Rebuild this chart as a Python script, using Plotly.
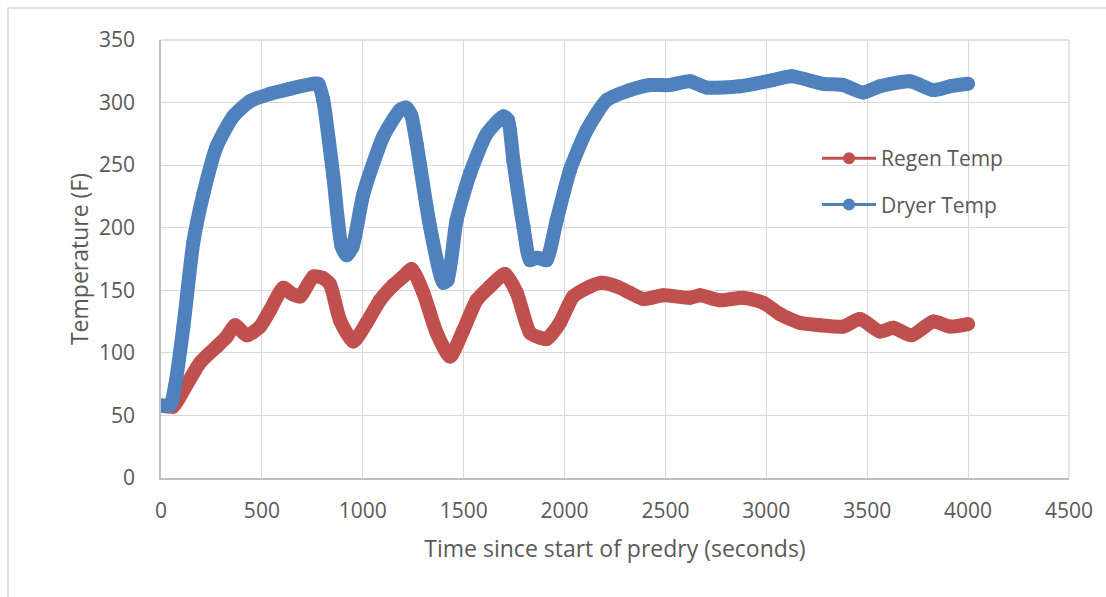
import plotly.graph_objects as go

# Dryer Temp (blue)
dryer_t = [0, 45, 69, 111, 160, 210, 276, 358, 441, 540, 639, 755, 780, 804, 854, 895, 920, 950,
           1003, 1102, 1184, 1215, 1240, 1267, 1333, 1399, 1420, 1465, 1531, 1614, 1697, 1720, 1746,
           1796, 1829, 1862, 1890, 1911, 1961, 2027, 2110, 2209, 2324, 2423, 2522, 2621, 2704, 2869,
           3034, 3125, 3282, 3381, 3480, 3563, 3712, 3827, 3910, 4000]
dryer_v = [58, 58, 73, 121, 188, 227, 265, 289, 301, 307, 311, 315, 315, 302, 241, 185, 178, 185,
           227, 273, 294, 296, 290, 267, 201, 156, 158, 206, 243, 275, 289, 286, 254,
           201, 174, 176, 175, 174, 206, 246, 278, 302, 310, 314, 314, 317, 312, 313,
           318, 321, 315, 314, 308, 313, 317, 310, 313, 315]

# Regen Temp (red)
regen_t = [0, 60, 111, 193, 276, 326, 367, 425, 491, 540, 606, 650, 689, 755, 800, 837, 887, 953,
           1019, 1085, 1151, 1201, 1242, 1300, 1366, 1432, 1498, 1564, 1630, 1705, 1763, 1829, 1880,
           1911, 1977, 2043, 2126, 2184, 2259, 2324, 2390, 2489, 2621, 2671, 2770, 2886, 2985, 3067,
           3166, 3266, 3381, 3464, 3563, 3629, 3720, 3827, 3910, 4000]
regen_v = [58, 57, 70, 92, 105, 113, 122, 114, 121, 134, 152, 147, 145, 161, 160, 155, 126, 109,
           124, 142, 154, 161, 167, 148, 116, 97, 118, 142, 153, 163, 148, 116, 112,
           111, 124, 145, 153, 156, 153, 148, 143, 146, 144, 146, 142, 144, 140, 131,
           124, 122, 121, 127, 117, 120, 114, 125, 121, 123]

series_names = ["Regen Temp", "Dryer Temp"]
colors = ["#c0504d", "#4f81bd"]

x_ticks = [0, 500, 1000, 1500, 2000, 2500, 3000, 3500, 4000, 4500]
y_ticks = [0, 50, 100, 150, 200, 250, 300, 350]

FONT = "Open Sans"
TXT = "#595959"

fig = go.Figure()
for t, v, name, c in [(regen_t, regen_v, series_names[0], colors[0]),
                      (dryer_t, dryer_v, series_names[1], colors[1])]:
    fig.add_trace(go.Scatter(x=t, y=v, mode="lines+markers", name=name,
                             line=dict(color=c, width=14, shape="spline", smoothing=0.6),
                             marker=dict(color=c, size=14),
                             showlegend=False, hoverinfo="skip"))

for i, (name, c) in enumerate(zip(series_names, colors)):
    fig.add_trace(go.Scatter(x=[None], y=[None], mode="lines+markers", name=name,
                             line=dict(color=c, width=3), marker=dict(color=c, size=12),
                             legendgroup=name))

fig.update_layout(
    width=1106, height=597,
    margin=dict(l=161, r=37, t=40, b=119),
    paper_bgcolor="white", plot_bgcolor="white",
    font=dict(family=FONT, size=21, color=TXT),
    legend=dict(x=0.7225, y=0.776, xanchor="left", yanchor="top",
                bgcolor="rgba(0,0,0,0)", tracegroupgap=16, itemwidth=54,
                font=dict(family=FONT, size=21, color=TXT)),
    xaxis=dict(range=[0, 4500], tickvals=x_ticks, ticktext=[str(v) for v in x_ticks],
               showgrid=True, gridcolor="#d9d9d9", gridwidth=1.3,
               showline=True, linecolor="#bfbfbf", linewidth=1.5,
               ticks="", ticklabelstandoff=13, zeroline=False,
               tickfont=dict(family=FONT, size=21, color=TXT),
               title=dict(text="Time since start of predry (seconds)", standoff=18,
                          font=dict(family=FONT, size=23, color=TXT))),
    yaxis=dict(range=[0, 350], tickvals=y_ticks, ticktext=[str(v) for v in y_ticks],
               showgrid=True, gridcolor="#d9d9d9", gridwidth=1.3,
               showline=True, linecolor="#bfbfbf", linewidth=1.5,
               ticks="", ticklabelstandoff=20, zeroline=False,
               tickfont=dict(family=FONT, size=21, color=TXT),
               title=dict(text="Temperature (F)", standoff=4,
                          font=dict(family=FONT, size=23, color=TXT))),
)

# chart border (Excel chart area outline)
fig.add_shape(type="rect", xref="paper", yref="paper",
              x0=-0.1685, x1=1.2, y0=-0.6, y1=1.073,
              line=dict(color="#d9d9d9", width=1.5), fillcolor="rgba(0,0,0,0)", layer="below")
# top and right gridlines at range edges
fig.add_shape(type="line", xref="paper", yref="paper", x0=0, x1=1, y0=1, y1=1,
              line=dict(color="#d9d9d9", width=1.3), layer="below")
fig.add_shape(type="line", xref="paper", yref="paper", x0=1, x1=1, y0=0, y1=1,
              line=dict(color="#d9d9d9", width=1.3), layer="below")

fig.write_html("out.html")
